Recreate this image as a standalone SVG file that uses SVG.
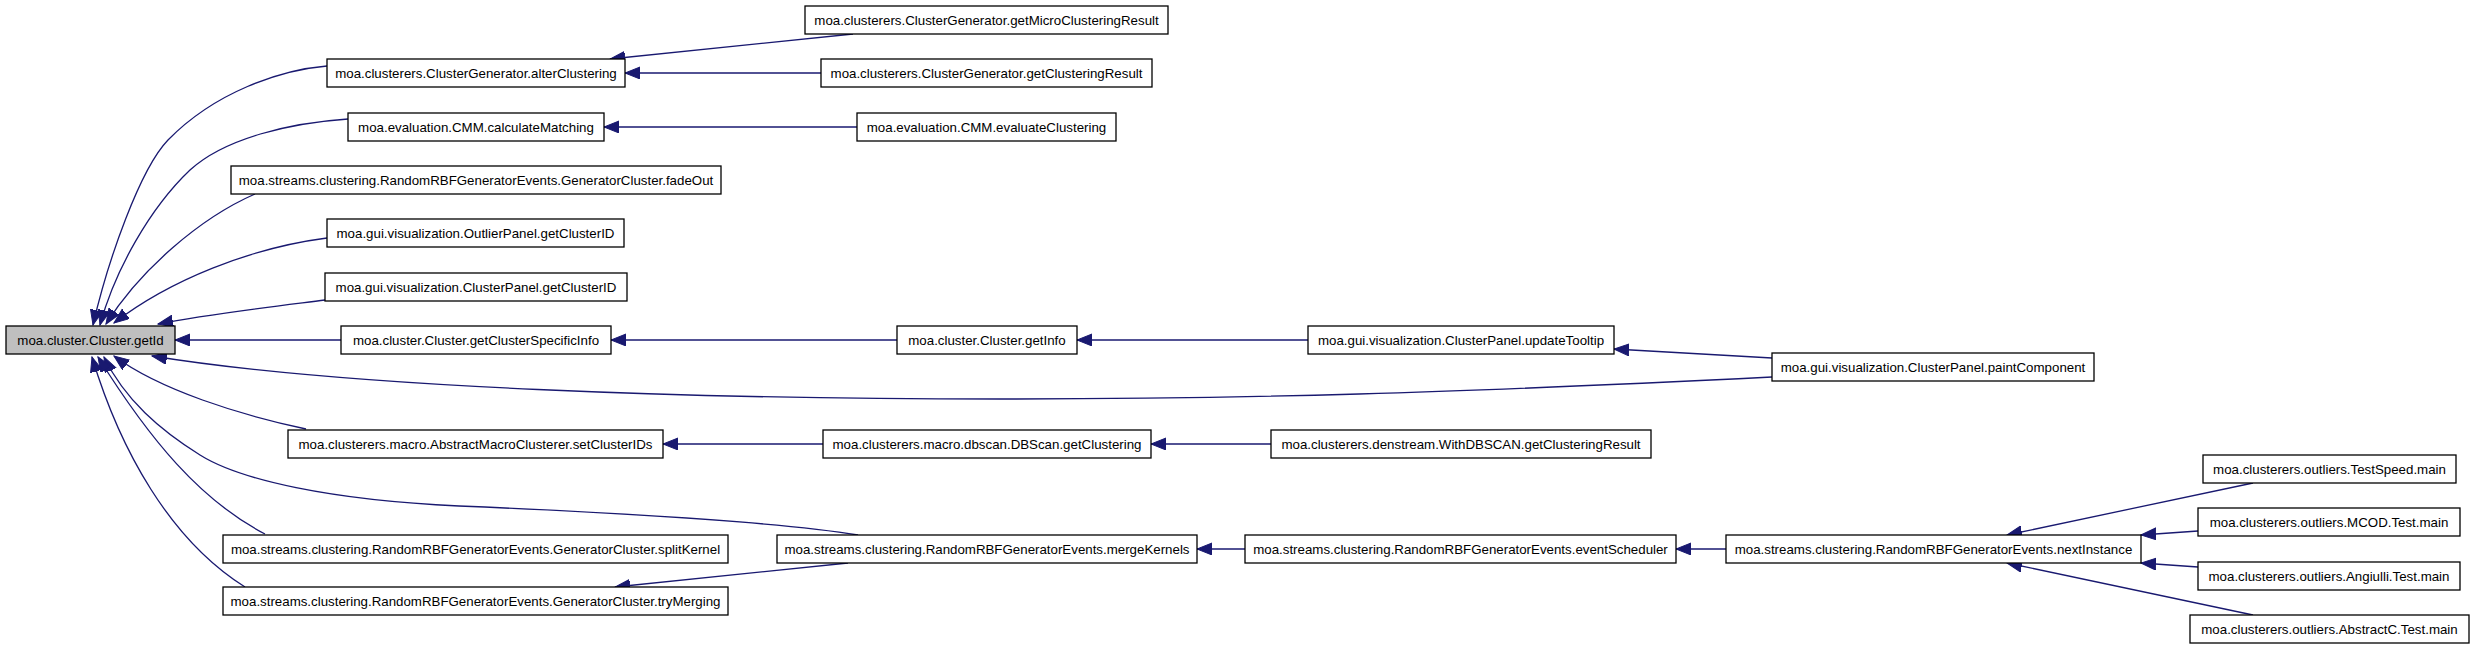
<svg xmlns="http://www.w3.org/2000/svg" width="2475" height="649" viewBox="0 0 2475 649">
<defs>
<style>
.n rect{fill:#ffffff;stroke:#000000;stroke-width:1.3}
.n.hl rect{fill:#bfbfbf}
.n text{font-family:"Liberation Sans",Arial,sans-serif;font-size:13.3px;fill:#000000;text-anchor:middle}
.e path{fill:none;stroke:#191970;stroke-width:1.3;marker-end:url(#arr)}
</style>
<marker id="arr" markerUnits="userSpaceOnUse" markerWidth="17" markerHeight="13" refX="15" refY="6" orient="auto">
<path d="M0,0 L15,6 L0,12 z" fill="#191970" stroke="#191970" stroke-width="1"/>
</marker>
</defs>
<rect x="0" y="0" width="2475" height="649" fill="#ffffff"/>
<g id="edges" class="e">
<path d="M327,66 C280,70 215,92 168,140 C140,169 108,260 93,325"/>
<path d="M348,119 C290,123 225,138 190,170 C150,208 115,270 100,325"/>
<path d="M255,194 C200,218 140,270 106,324"/>
<path d="M327,238 C250,248 170,280 114,323"/>
<path d="M325,300 C270,307 210,314 158,324"/>
<path d="M341,340 L175,340"/>
<path d="M1772,377 C1450,393 1250,399 1000,399 C700,399 350,388 152,356"/>
<path d="M306,429 C240,415 160,390 114,356"/>
<path d="M858,535 C780,522 600,512 459,506 C330,500 240,480 200,455 C160,430 125,400 104,357"/>
<path d="M265,534 C200,500 150,440 98,357"/>
<path d="M245,587 C170,540 120,450 92,357"/>
<path d="M853,34 L610,59"/>
<path d="M821,73 L625,73"/>
<path d="M857,127 L604,127"/>
<path d="M897,340 L611,340"/>
<path d="M1308,340 L1077,340"/>
<path d="M1772,358 L1614,349"/>
<path d="M1271,444 L1151,444"/>
<path d="M823,444 L663,444"/>
<path d="M848,563 L615,587"/>
<path d="M1245,549 L1197,549"/>
<path d="M1726,549 L1676,549"/>
<path d="M2253,483 L2007,535"/>
<path d="M2198,531 L2141,535"/>
<path d="M2198,567 L2141,563"/>
<path d="M2253,615 L2007,563"/>
</g>
<g id="n_getId" class="n hl"><rect x="6" y="326" width="169" height="28"/><text x="90.5" y="344.7">moa.cluster.Cluster.getId</text></g>
<g id="n_alterClustering" class="n"><rect x="327" y="59" width="298" height="28"/><text x="476" y="77.7">moa.clusterers.ClusterGenerator.alterClustering</text></g>
<g id="n_calculateMatching" class="n"><rect x="348" y="113" width="256" height="28"/><text x="476" y="131.7">moa.evaluation.CMM.calculateMatching</text></g>
<g id="n_fadeOut" class="n"><rect x="231" y="166" width="490" height="28"/><text x="476" y="184.7">moa.streams.clustering.RandomRBFGeneratorEvents.GeneratorCluster.fadeOut</text></g>
<g id="n_outlierGetClusterID" class="n"><rect x="327" y="219" width="297" height="28"/><text x="475.5" y="237.7">moa.gui.visualization.OutlierPanel.getClusterID</text></g>
<g id="n_clusterGetClusterID" class="n"><rect x="325" y="273" width="302" height="28"/><text x="476" y="291.7">moa.gui.visualization.ClusterPanel.getClusterID</text></g>
<g id="n_getClusterSpecificInfo" class="n"><rect x="341" y="326" width="270" height="28"/><text x="476" y="344.7">moa.cluster.Cluster.getClusterSpecificInfo</text></g>
<g id="n_setClusterIDs" class="n"><rect x="288" y="430" width="375" height="28"/><text x="475.5" y="448.7">moa.clusterers.macro.AbstractMacroClusterer.setClusterIDs</text></g>
<g id="n_splitKernel" class="n"><rect x="223" y="535" width="505" height="28"/><text x="475.5" y="553.7">moa.streams.clustering.RandomRBFGeneratorEvents.GeneratorCluster.splitKernel</text></g>
<g id="n_tryMerging" class="n"><rect x="223" y="587" width="505" height="28"/><text x="475.5" y="605.7">moa.streams.clustering.RandomRBFGeneratorEvents.GeneratorCluster.tryMerging</text></g>
<g id="n_getMicroClusteringResult" class="n"><rect x="805" y="6" width="363" height="28"/><text x="986.5" y="24.7">moa.clusterers.ClusterGenerator.getMicroClusteringResult</text></g>
<g id="n_getClusteringResult" class="n"><rect x="821" y="59" width="331" height="28"/><text x="986.5" y="77.7">moa.clusterers.ClusterGenerator.getClusteringResult</text></g>
<g id="n_evaluateClustering" class="n"><rect x="857" y="113" width="259" height="28"/><text x="986.5" y="131.7">moa.evaluation.CMM.evaluateClustering</text></g>
<g id="n_getInfo" class="n"><rect x="897" y="326" width="180" height="28"/><text x="987" y="344.7">moa.cluster.Cluster.getInfo</text></g>
<g id="n_dbscanGetClustering" class="n"><rect x="823" y="430" width="328" height="28"/><text x="987" y="448.7">moa.clusterers.macro.dbscan.DBScan.getClustering</text></g>
<g id="n_mergeKernels" class="n"><rect x="777" y="535" width="420" height="28"/><text x="987" y="553.7">moa.streams.clustering.RandomRBFGeneratorEvents.mergeKernels</text></g>
<g id="n_updateTooltip" class="n"><rect x="1308" y="326" width="306" height="28"/><text x="1461" y="344.7">moa.gui.visualization.ClusterPanel.updateTooltip</text></g>
<g id="n_withDBSCAN" class="n"><rect x="1271" y="430" width="380" height="28"/><text x="1461" y="448.7">moa.clusterers.denstream.WithDBSCAN.getClusteringResult</text></g>
<g id="n_eventScheduler" class="n"><rect x="1245" y="535" width="431" height="28"/><text x="1460.5" y="553.7">moa.streams.clustering.RandomRBFGeneratorEvents.eventScheduler</text></g>
<g id="n_paintComponent" class="n"><rect x="1772" y="353" width="322" height="28"/><text x="1933" y="371.7">moa.gui.visualization.ClusterPanel.paintComponent</text></g>
<g id="n_nextInstance" class="n"><rect x="1726" y="535" width="415" height="28"/><text x="1933.5" y="553.7">moa.streams.clustering.RandomRBFGeneratorEvents.nextInstance</text></g>
<g id="n_testSpeed" class="n"><rect x="2203" y="455" width="253" height="28"/><text x="2329.5" y="473.7">moa.clusterers.outliers.TestSpeed.main</text></g>
<g id="n_mcodTest" class="n"><rect x="2198" y="508" width="262" height="28"/><text x="2329" y="526.7">moa.clusterers.outliers.MCOD.Test.main</text></g>
<g id="n_angiulliTest" class="n"><rect x="2198" y="562" width="262" height="28"/><text x="2329" y="580.7">moa.clusterers.outliers.Angiulli.Test.main</text></g>
<g id="n_abstractCTest" class="n"><rect x="2190" y="615" width="279" height="28"/><text x="2329.5" y="633.7">moa.clusterers.outliers.AbstractC.Test.main</text></g>
</svg>
